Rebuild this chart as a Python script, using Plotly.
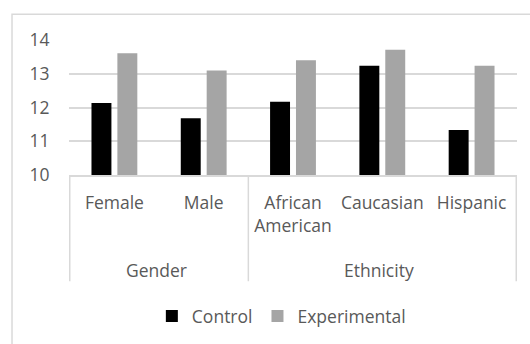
import plotly.graph_objects as go

# Mean scores by subgroup
categories = ["Female", "Male", "African<br>American", "Caucasian", "Hispanic"]
control = [12.13, 11.68, 12.17, 13.24, 11.33]
experimental = [13.61, 13.10, 13.40, 13.71, 13.24]
groups = ["Gender", "Ethnicity"]
group_centers = [0.5, 3]          # centre of each group on the category axis
group_edges = [-0.5, 1.5, 4.5]    # divider positions on the category axis
y_ticks = [10, 11, 12, 13, 14]

FONT = "Open Sans"
TEXT = "#595959"
GRID = "#d9d9d9"

fig = go.Figure()
fig.add_trace(go.Bar(name="Control", x=categories, y=control,
                     marker=dict(color="#000000", line=dict(width=0))))
fig.add_trace(go.Bar(name="Experimental", x=categories, y=experimental,
                     marker=dict(color="#a5a5a5", line=dict(width=0))))

# group dividers below the category axis
for e in group_edges:
    fig.add_shape(type="line", xref="x", yref="paper", x0=e, x1=e, y0=0, y1=-0.787,
                  line=dict(color=GRID, width=1.5))

# group labels
for g, c in zip(groups, group_centers):
    fig.add_annotation(text=g, x=c, xref="x", y=-0.70, yref="paper",
                       showarrow=False, yanchor="middle", xshift=-3,
                       font=dict(family=FONT, size=17.5, color=TEXT))

# chart frame
fig.add_shape(type="rect", xref="paper", yref="paper",
              x0=-0.1272, x1=1.2, y0=-1.6, y1=1.191,
              line=dict(color=GRID, width=1.5), layer="below")

fig.update_layout(
    width=530, height=344,
    margin=dict(l=69, r=13, t=40, b=168),
    paper_bgcolor="white", plot_bgcolor="white",
    barmode="group", bargap=0.42, bargroupgap=0.23,
    font=dict(family=FONT, size=17.5, color=TEXT),
    showlegend=True,
    legend=dict(orientation="h", x=0.474, xanchor="center", y=-1.03, yanchor="middle",
                font=dict(family=FONT, size=17.5, color=TEXT), itemwidth=30,
                bgcolor="rgba(0,0,0,0)"),
    xaxis=dict(type="category", showline=True, linecolor=GRID, linewidth=1.5,
               showgrid=False, ticks="outside", ticklen=11, tickcolor="rgba(0,0,0,0)",
               tickfont=dict(family=FONT, size=17.5, color=TEXT), fixedrange=True),
    yaxis=dict(range=[10, 14], tickvals=y_ticks, showgrid=True, gridcolor=GRID,
               gridwidth=1.5, zeroline=False, showline=False,
               ticks="outside", ticklen=15, tickcolor="rgba(0,0,0,0)",
               tickfont=dict(family=FONT, size=17.5, color=TEXT), fixedrange=True),
)

fig.write_html("out.html")
